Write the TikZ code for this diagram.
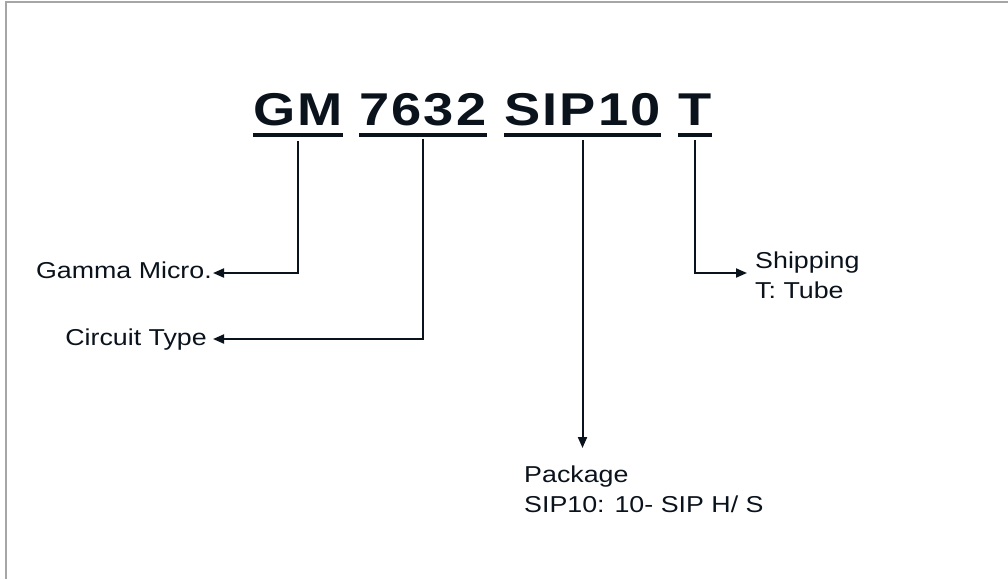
\documentclass[tikz,border=0pt]{standalone}
\usepackage{fontspec}
\setmainfont{Liberation Sans}
\newfontfamily\bigfont{Liberation Sans}[LetterSpace=4]
\newfontfamily\labfont{Liberation Sans}
\usetikzlibrary{arrows.meta}
\definecolor{ink}{HTML}{0A121C}
\definecolor{framegray}{HTML}{A6A6A6}
\begin{document}
\begin{tikzpicture}[x=1pt,y=-1pt,
  word/.style={inner sep=0pt, anchor=base west, text=ink, xscale=1.18, transform shape,
    font=\bigfont\bfseries\fontsize{46}{50}\selectfont},
  lab/.style={inner sep=0pt, text=ink, xscale=1.165, transform shape,
    font=\labfont\fontsize{23}{30}\selectfont, align=left},
  uline/.style={draw=ink, line width=3.3pt},
  conn/.style={draw=ink, line width=2pt},
  arr/.style={conn, -{Triangle[length=11pt,width=9pt]}}]
\useasboundingbox (0,0) rectangle (1008,579);
\draw[framegray, line width=2pt] (6,579) -- (6,2) -- (1008,2);
\coordinate (rowA) at (0,273);
\coordinate (rowB) at (0,339);
\coordinate (rowC) at (0,448);
% words
\node[word] (gm) at (253,125) {GM};
\node[word] (ct) at (359,125) {7632};
\node[word] (sip) at (504,125) {SIP10};
\node[word] (t) at (678,125) {T};
\foreach \w in {gm,ct,sip,t}{
  \draw[uline] ([yshift=-10pt]\w.base west) -- ([yshift=-10pt]\w.base east);
}
% labels
\node[lab, anchor=base east] (gmlab) at (212,278) {Gamma Micro.};
\node[lab, anchor=base east] (ctlab) at (207,345) {Circuit Type};
\node[lab, anchor=base west] (pklab) at (524,512) {Package\\SIP10: 10- SIP H/ S};
\node[lab, anchor=base west] (shlab) at (755,298) {Shipping\\T: Tube};
% connectors
\draw[arr] ([yshift=-16pt]gm.base) |- ([xshift=1pt]gmlab.east |- rowA);
\draw[arr] ([yshift=-14pt]ct.base) |- ([xshift=6pt]ctlab.east |- rowB);
\draw[arr] ([yshift=-15pt]sip.base) -- (sip.base |- rowC);
\draw[arr] ([yshift=-15pt]t.base) |- ([xshift=-8pt]shlab.west |- rowA);
\end{tikzpicture}
\end{document}
